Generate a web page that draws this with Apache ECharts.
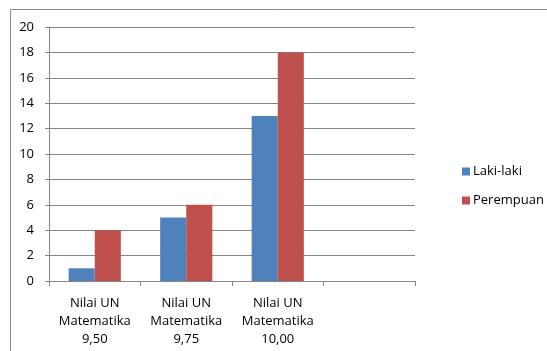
<!DOCTYPE html>
<html><head><meta charset="utf-8">
<script src="https://cdn.jsdelivr.net/npm/echarts@6/dist/echarts.min.js"></script>
<style>html,body{margin:0;padding:0;background:#fff}#c{width:547px;height:351px}</style>
</head><body><div id="c"></div>
<script>
var categories = ['Nilai UN\nMatematika\n9,50', 'Nilai UN\nMatematika\n9,75', 'Nilai UN\nMatematika\n10,00', ''];
var lakiLaki = [1, 5, 13, '-'];
var perempuan = [4, 6, 18, '-'];
var yTicks = {min: 0, max: 20, interval: 2};

var chart = echarts.init(document.getElementById('c'));
chart.setOption({
  animation: false,
  graphic: [{type: 'rect', shape: {x: 10.5, y: 9.5, width: 600, height: 400}, style: {fill: 'none', stroke: '#8a8a8a', lineWidth: 1}, z: -1}],
  grid: {left: 49, right: 132, top: 27, bottom: 70},
  legend: {
    orient: 'vertical', left: 457, top: 160, itemWidth: 8, itemHeight: 8, itemGap: 16,
    icon: 'rect',
    textStyle: {fontFamily: 'Open Sans', fontSize: 13, color: '#000', padding: [0,0,0,-2]},
    data: ['Laki-laki', 'Perempuan']
  },
  xAxis: {
    type: 'category', data: categories,
    axisLine: {lineStyle: {color: '#868686'}},
    axisTick: {show: true, length: 5, lineStyle: {color: '#868686'}},
    axisLabel: {fontFamily: 'Open Sans', fontSize: 13, color: '#000', lineHeight: 18, margin: 13, interval: 0}
  },
  yAxis: {
    type: 'value', min: yTicks.min, max: yTicks.max, interval: yTicks.interval,
    axisLine: {show: true, lineStyle: {color: '#868686'}},
    axisTick: {show: true, length: 4, lineStyle: {color: '#868686'}},
    axisLabel: {fontFamily: 'Open Sans', fontSize: 13, color: '#000', margin: 15},
    splitLine: {lineStyle: {color: '#868686'}}
  },
  series: [
    {name: 'Laki-laki', type: 'bar', data: lakiLaki, itemStyle: {color: '#4F81BD'}, barGap: '0%', barCategoryGap: '43%'},
    {name: 'Perempuan', type: 'bar', data: perempuan, itemStyle: {color: '#C0504D'}, barGap: '0%', barCategoryGap: '43%'}
  ]
});
</script></body></html>
